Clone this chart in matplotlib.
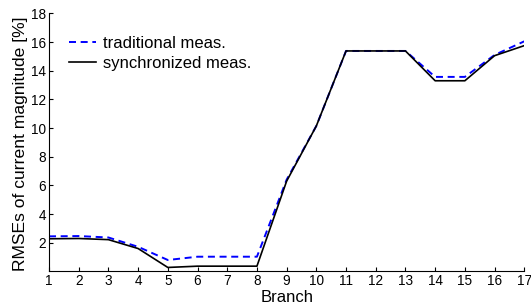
import matplotlib
matplotlib.use("Agg")
import matplotlib.pyplot as plt
import numpy as np

plt.rcParams['font.family'] = ['Liberation Sans', 'DejaVu Sans']

branches = np.arange(1, 18)
traditional = [2.45, 2.47, 2.37, 1.72, 0.8, 1.03, 1.03, 1.03, 6.4, 10.15,
               15.38, 15.38, 15.38, 13.57, 13.57, 15.1, 16.05]
synchronized = [2.28, 2.3, 2.22, 1.6, 0.28, 0.37, 0.37, 0.37, 6.3, 10.15,
                15.38, 15.38, 15.38, 13.3, 13.3, 15.05, 15.75]

fig = plt.figure(figsize=(5.31, 3.04), dpi=100)
ax = fig.add_axes([0.0923, 0.107, 0.895, 0.849])

ax.plot(branches, traditional, color='#0000ff', linestyle='--', linewidth=1.4,
        dashes=(3.6, 2.4), label='traditional meas.')
ax.plot(branches, synchronized, color='black', linewidth=1.2, label='synchronized meas.')

ax.set_xlim(1, 17)
ax.set_ylim(0, 18)
ax.set_xticks(branches)
ax.set_yticks(np.arange(2, 19, 2))
ax.tick_params(direction='in', length=3, labelsize=9.8, width=0.8, pad=2)
ax.spines['top'].set_visible(False)
ax.spines['right'].set_visible(False)
for s in ['left', 'bottom']:
    ax.spines[s].set_linewidth(0.8)

ax.set_xlabel('Branch', fontsize=12, labelpad=1)
ax.set_ylabel('RMSEs of current magnitude [%]', fontsize=12.6, labelpad=2)
ax.yaxis.set_label_coords(-0.045, 0.495)

ax.legend(loc='upper left', bbox_to_anchor=(0.042, 0.913), frameon=False,
          fontsize=12, handlelength=1.6, handletextpad=0.42, labelspacing=0.3,
          borderpad=0, borderaxespad=0)

fig.savefig('out.png', dpi=100)
